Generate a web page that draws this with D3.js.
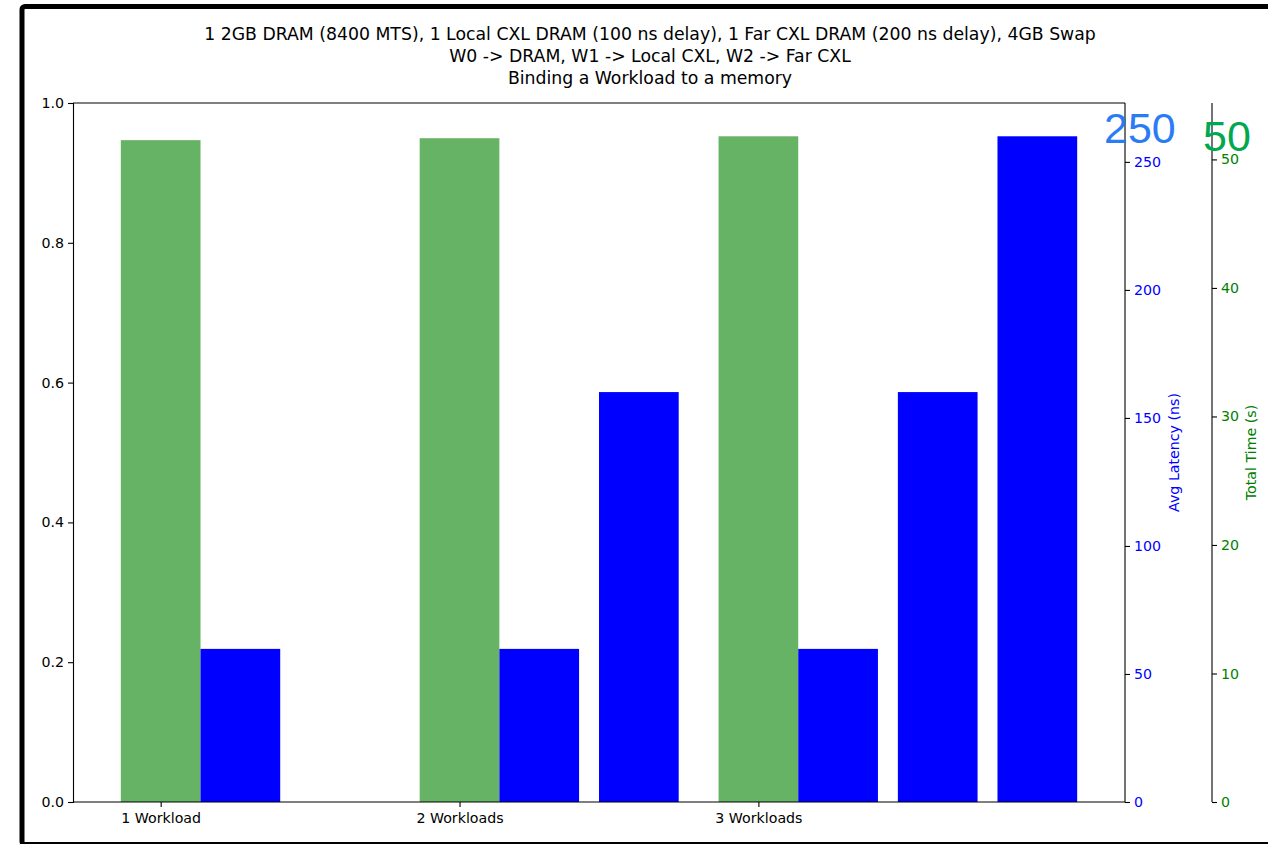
<!DOCTYPE html>
<html>
<head>
<meta charset="utf-8">
<script src="https://cdn.jsdelivr.net/npm/d3@7"></script>
<style>
  html, body { margin: 0; padding: 0; background: #fff; }
  svg { display: block; font-family: "DejaVu Sans", sans-serif; }
</style>
</head>
<body>
<svg id="chart" width="1268" height="844"></svg>
<script>
// Workload groups and the measured values per group
const categories = ["1 Workload", "2 Workloads", "3 Workloads"];
const totalTime = [51.5, 51.65, 51.8];           // seconds, one per group
const avgLatency = [[59.8], [59.8, 160.1], [59.8, 160.1, 260]]; // ns, per workload in group
const leftTicks = [0, 0.2, 0.4, 0.6, 0.8, 1.0];
const latencyTicks = [0, 50, 100, 150, 200, 250];
const timeTicks = [0, 10, 20, 30, 40, 50];
const titleLines = [
  "1 2GB DRAM (8400 MTS), 1 Local CXL DRAM (100 ns delay), 1 Far CXL DRAM (200 ns delay), 4GB Swap",
  "W0 -> DRAM, W1 -> Local CXL, W2 -> Far CXL",
  "Binding a Workload to a memory"
];

const svg = d3.select("#chart");
const plot = { left: 73, right: 1125, top: 103, bottom: 802 };
const greenAxisX = 1212;
const tickFont = 14.2;

// figure frame
svg.append("rect")
  .attr("x", 22).attr("y", 6.5).attr("width", 1300).attr("height", 838)
  .attr("rx", 3)
  .attr("fill", "#fff").attr("stroke", "#000").attr("stroke-width", 5);

// bar geometry in category units
const barW = 0.8 / 3;
const step = 1 / 3;
const timeBars = totalTime.map((v, i) => ({ x: i, v }));
const latBars = [];
avgLatency.forEach((arr, i) => arr.forEach((v, j) => latBars.push({ x: i + barW + j * step, v })));

const xmin = -barW / 2, xmax = 2 + barW + 2 * step + barW / 2;
const pad = (xmax - xmin) * 0.05;
const x = d3.scaleLinear().domain([xmin - pad, xmax + pad]).range([plot.left, plot.right]);

const yLeft = d3.scaleLinear().domain([0, 1]).range([plot.bottom, plot.top]);
const latMax = d3.max(latBars, d => d.v) * 1.05;
const yLat = d3.scaleLinear().domain([0, latMax]).range([plot.bottom, plot.top]);
const timeMax = d3.max(totalTime) * 1.05;
const yTime = d3.scaleLinear().domain([0, timeMax]).range([plot.bottom, plot.top]);

// bars
svg.append("g").selectAll("rect").data(timeBars).join("rect")
  .attr("x", d => x(d.x - barW / 2))
  .attr("width", d => x(d.x + barW / 2) - x(d.x - barW / 2))
  .attr("y", d => yTime(d.v))
  .attr("height", d => yTime(0) - yTime(d.v))
  .attr("fill", "green").attr("fill-opacity", 0.6);

svg.append("g").selectAll("rect").data(latBars).join("rect")
  .attr("x", d => x(d.x - barW / 2))
  .attr("width", d => x(d.x + barW / 2) - x(d.x - barW / 2))
  .attr("y", d => yLat(d.v))
  .attr("height", d => yLat(0) - yLat(d.v))
  .attr("fill", "#0000ff");

function styleAxis(g, color) {
  g.attr("font-family", null).attr("font-size", null);
  g.selectAll("path").attr("stroke", "#000").attr("stroke-width", 1.1);
  g.selectAll(".tick line").attr("stroke", "#000").attr("stroke-width", 1.1);
  g.selectAll(".tick text").attr("fill", color).style("font-size", tickFont + "px")
    .style("font-family", "'DejaVu Sans', sans-serif");
}

// left axis
const gl = svg.append("g").attr("transform", `translate(${plot.left},0)`)
  .call(d3.axisLeft(yLeft).tickValues(leftTicks).tickFormat(d3.format(".1f")).tickSizeOuter(0).tickSize(5).tickPadding(4));
styleAxis(gl, "#000");

// bottom axis
const gb = svg.append("g").attr("transform", `translate(0,${plot.bottom})`)
  .call(d3.axisBottom(x).tickValues(categories.map((c, i) => i)).tickFormat(i => categories[i]).tickSizeOuter(0).tickSize(5).tickPadding(6));
styleAxis(gb, "#000");
gb.select("path").remove();

// top & bottom spines
svg.append("line").attr("x1", plot.left).attr("x2", plot.right).attr("y1", plot.top).attr("y2", plot.top)
  .attr("stroke", "#000").attr("stroke-width", 1.1);
svg.append("line").attr("x1", plot.left).attr("x2", plot.right).attr("y1", plot.bottom).attr("y2", plot.bottom)
  .attr("stroke", "#000").attr("stroke-width", 1.1);

// latency axis (right spine)
const gr = svg.append("g").attr("transform", `translate(${plot.right},0)`)
  .call(d3.axisRight(yLat).tickValues(latencyTicks).tickSizeOuter(0).tickSize(5).tickPadding(4));
styleAxis(gr, "#0000ff");
gr.select("path").attr("d", `M0,${plot.top}V${plot.bottom}`);

// total time axis (offset spine)
const gt = svg.append("g").attr("transform", `translate(${greenAxisX},0)`)
  .call(d3.axisRight(yTime).tickValues(timeTicks).tickSizeOuter(0).tickSize(5).tickPadding(4));
styleAxis(gt, "green");
gt.select("path").attr("d", `M0,${plot.top}V${plot.bottom}`);

// axis labels
const midY = (plot.top + plot.bottom) / 2;
svg.append("text").attr("transform", `translate(1179,${midY}) rotate(-90)`)
  .attr("text-anchor", "middle").style("font-size", tickFont + "px").attr("fill", "#0000ff")
  .text("Avg Latency (ns)");
svg.append("text").attr("transform", `translate(1256,${midY}) rotate(-90)`)
  .attr("text-anchor", "middle").style("font-size", tickFont + "px").attr("fill", "green")
  .text("Total Time (s)");

// large top-of-axis annotations
svg.append("text").attr("x", 1104).attr("y", 143)
  .style("font-family", "'Liberation Sans', Arial, sans-serif").style("font-size", "43px").attr("fill", "#2b7bf5")
  .text(latencyTicks[latencyTicks.length - 1]);
svg.append("text").attr("x", 1203).attr("y", 151)
  .style("font-family", "'Liberation Sans', Arial, sans-serif").style("font-size", "43px").attr("fill", "#00a84f")
  .text(timeTicks[timeTicks.length - 1]);

// title
svg.append("g").selectAll("text").data(titleLines).join("text")
  .attr("x", 650).attr("y", (d, i) => 40 + i * 22)
  .attr("text-anchor", "middle").style("font-size", "17.3px").attr("fill", "#000")
  .text(d => d);
</script>
</body>
</html>
